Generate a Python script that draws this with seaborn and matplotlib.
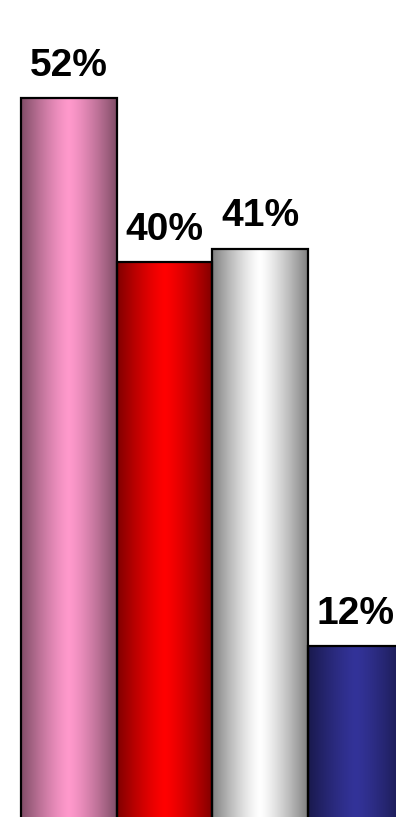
import numpy as np
import pandas as pd
import matplotlib
matplotlib.use("Agg")
import matplotlib.pyplot as plt
import seaborn as sns
from matplotlib.colors import to_rgb

# Data
categories = ["Group 1", "Group 2", "Group 3", "Group 4"]
values = [52, 40, 41, 12]
value_labels = ["52%", "40%", "41%", "12%"]
bar_colors = ["#FF99CC", "#FF0000", "#FFFFFF", "#333399"]

sns.set_theme(style="white")
plt.rcParams["font.family"] = ["Liberation Sans", "DejaVu Sans"]

fig = plt.figure(figsize=(3.96, 8.17), dpi=100)
ax = fig.add_axes([0, 0, 1, 1])

df = pd.DataFrame({"category": categories, "value": values})
sns.barplot(data=df, x="category", y="value", hue="category",
            palette=bar_colors, width=1.0, saturation=1,
            edgecolor="black", linewidth=1.6, legend=False, ax=ax)

# Horizontal "cylinder" shading: dark at the sides, full colour in the middle
t = np.linspace(0, 1, 512)
shade = 0.5 + 0.5 * (1 - np.abs(2 * t - 1) ** 1.3)

below = 3.0  # bars run past the bottom edge of the figure
for patch, col, val, lab in zip(ax.patches, bar_colors, values, value_labels):
    x0 = patch.get_x()
    w = patch.get_width()
    patch.set_y(-below)
    patch.set_height(val + below)
    patch.set_facecolor("none")
    patch.set_zorder(3)
    rgb = np.array(to_rgb(col))
    img = (shade[:, None] * rgb[None, :])[None, :, :]
    im = ax.imshow(img, extent=[x0, x0 + w, -below, val], aspect="auto",
                   interpolation="bilinear", zorder=2)
    im.set_clip_path(patch)
    ax.annotate(lab, xy=(x0 + w / 2, val), xytext=(0, 16),
                textcoords="offset points", ha="center", va="baseline",
                fontsize=28, fontweight="bold", color="black")

ax.set_xlim(-0.725, 3.422)
ax.set_ylim(-0.48, 59.15)
ax.axis("off")

fig.savefig("out.png", dpi=100)
